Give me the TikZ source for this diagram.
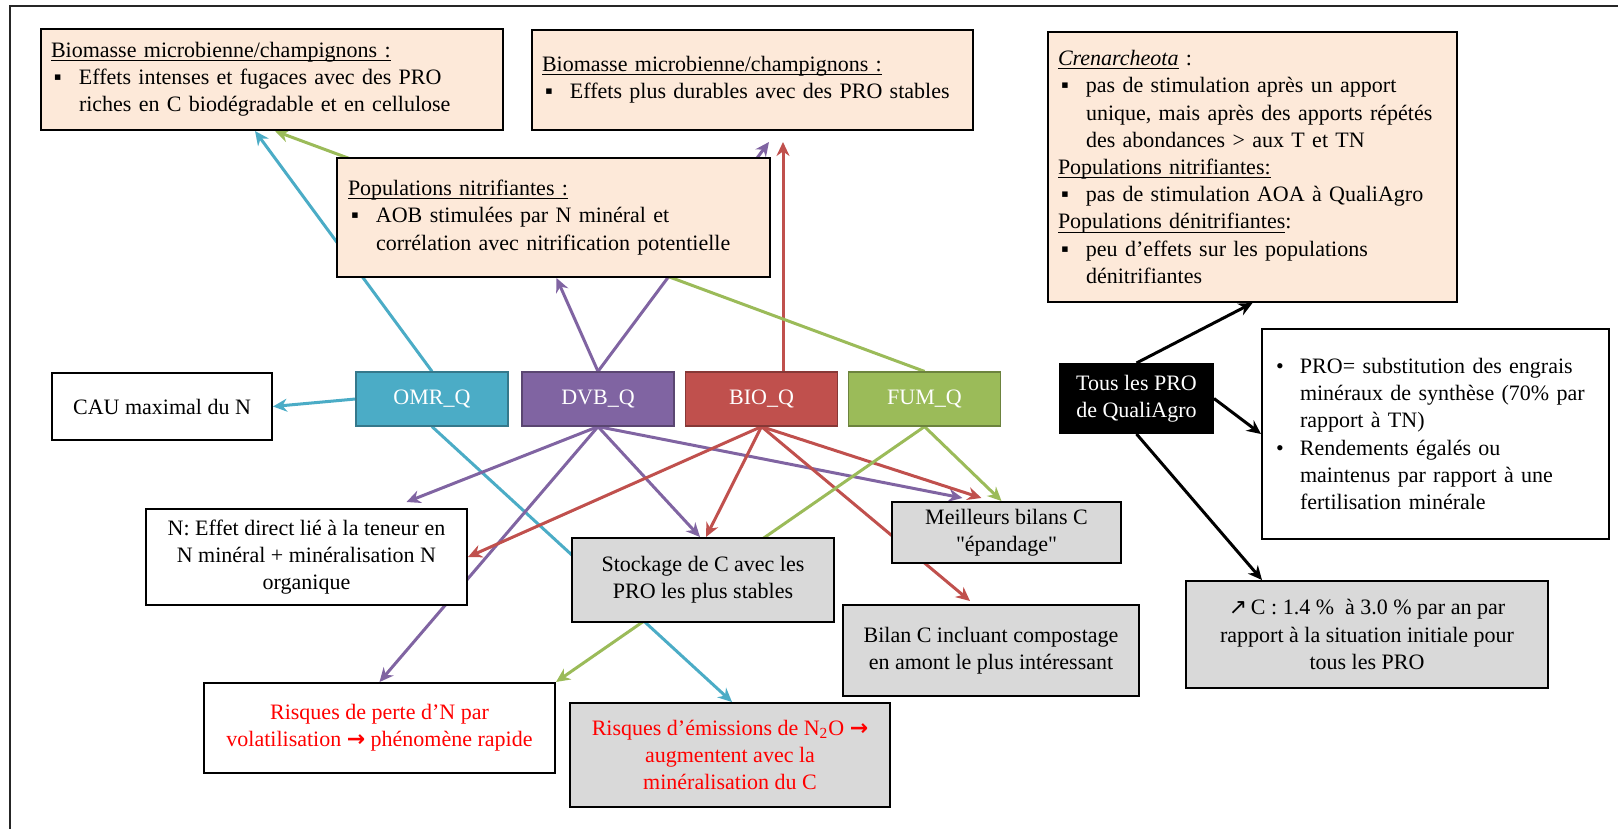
\documentclass[tikz,border=0pt]{standalone}
\usepackage{fontspec}
\setmainfont{Liberation Serif}
\newfontfamily\arrowfont{DejaVu Sans}
\usetikzlibrary{arrows.meta,calc,backgrounds}
\definecolor{omrcol}{HTML}{4BACC6}
\definecolor{dvbcol}{HTML}{8064A2}
\definecolor{biocol}{HTML}{C0504D}
\definecolor{fumcol}{HTML}{9BBB59}
\definecolor{peachfill}{HTML}{FDE9D9}
\definecolor{greyfill}{HTML}{D9D9D9}
\newcommand{\sqbul}{\makebox[14pt][l]{\hspace{1.5pt}▪}}
\newcommand{\dotbul}{\makebox[12pt][l]{•}}
\newcommand{\hang}[1]{\hspace*{#1}}
\newsavebox{\ulbox}
\newcommand{\ulin}[1]{\leavevmode\sbox{\ulbox}{#1}\rlap{\rule[-1.8pt]{\wd\ulbox}{0.5pt}}\usebox{\ulbox}}

\begin{document}
\begin{tikzpicture}[x=0.5pt,y=-0.5pt,
  every node/.style={font=\fontsize{11}{13.6}\selectfont, line width=1pt},
  peachbox/.style={draw, fill=peachfill, align=left},
  greybox/.style={draw, fill=greyfill, align=center},
  whitebox/.style={draw, fill=white, align=center},
  qbox/.style={draw=#1!70!black, line width=0.6pt, fill=#1, text=white, minimum width=76pt, minimum height=27pt},
  link/.style={draw=#1, line width=1.5pt, -{Stealth[length=7pt,width=6.5pt]}}]
\useasboundingbox (0,0) rectangle (1618,829);
\draw[line width=1.2pt, black!85] (10,829) -- (10,6) -- (1618,6);

\node[peachbox, minimum width=231pt, minimum height=50.5pt, text width=221pt, inner xsep=5pt] (bio1) at (272,79.5)
  {\ulin{Biomasse microbienne/champignons :}\\ \sqbul Effets intenses et fugaces avec des PRO\\ \hang{14pt}riches en C biodégradable et en cellulose};
\node[peachbox, minimum width=220.5pt, minimum height=50pt, text width=210.5pt, inner xsep=5pt] (bio2) at (752.5,80)
  {\ulin{Biomasse microbienne/champignons :}\\ \sqbul Effets plus durables avec des PRO stables};
\node[peachbox, minimum width=204.5pt, minimum height=135pt, text width=194.5pt, inner xsep=5pt] (crena) at (1252.5,167)
  {\ulin{\textit{Crenarcheota}} :\\ \sqbul pas de stimulation après un apport\\ \hang{14pt}unique, mais après des apports répétés\\ \hang{14pt}des abondances > aux T et TN\\
   \ulin{Populations nitrifiantes:}\\ \sqbul pas de stimulation AOA à QualiAgro\\ \ulin{Populations dénitrifiantes}:\\ \sqbul peu d’effets sur les populations\\ \hang{14pt}dénitrifiantes};
\node[peachbox, minimum width=216.5pt, minimum height=59.5pt, text width=205.5pt, inner xsep=5.5pt] (nitri) at (553.5,217.5)
  {\ulin{Populations nitrifiantes :}\\ \sqbul AOB stimulées par N minéral et\\ \hang{14pt}corrélation avec nitrification potentielle};

\node[qbox=omrcol] (omr) at (432,399) {OMR\_Q};
\node[qbox=dvbcol] (dvb) at (598,399) {DVB\_Q};
\node[qbox=biocol] (bioq) at (761.5,399) {BIO\_Q};
\node[qbox=fumcol] (fum) at (924.5,399) {FUM\_Q};

\node[whitebox, minimum width=110pt, minimum height=33.5pt] (cau) at (162,406.5) {CAU maximal du N};
\node[whitebox, minimum width=160.5pt, minimum height=48pt] (neff) at (306.5,557)
  {N: Effet direct lié à la teneur en\\ N minéral + minéralisation N\\ organique};
\node[greybox, minimum width=131pt, minimum height=42pt] (stock) at (703,580) {Stockage de C avec les\\ PRO les plus stables};
\node[greybox, minimum width=114.5pt, minimum height=30.5pt] (meil) at (1006.5,532.5) {Meilleurs bilans C\\ \textquotedbl épandage\textquotedbl};
\node[greybox, minimum width=148pt, minimum height=45.5pt] (bilan) at (991,650.5) {Bilan C incluant compostage\\ en amont le plus intéressant};
\node[whitebox, text=red, minimum width=175.5pt, minimum height=45pt] (perte) at (379.5,728)
  {Risques de perte d’N par\\ volatilisation {\arrowfont\bfseries →} phénomène rapide};
\node[greybox, text=red, minimum width=160pt, minimum height=52pt] (emis) at (730,755)
  {Risques d’émissions de N\textsubscript{2}O {\arrowfont\bfseries →}\\ augmentent avec la\\ minéralisation du C};

\node[draw=black, fill=black, text=white, align=center, minimum width=76.5pt, minimum height=34.5pt] (tous) at (1136.5,398.5) {Tous les PRO\\ de QualiAgro};
\node[draw, fill=white, align=left, minimum width=173.5pt, minimum height=105pt, text width=159.5pt, inner xsep=7pt] (pro) at (1435.5,434)
  {\dotbul PRO= substitution des engrais\\ \hang{12pt}minéraux de synthèse (70\% par\\ \hang{12pt}rapport à TN)\\ \dotbul Rendements égalés ou\\ \hang{12pt}maintenus par rapport à une\\ \hang{12pt}fertilisation minérale};
\node[greybox, minimum width=181pt, minimum height=53.5pt] (upc) at (1367,634.5)
  {{\arrowfont ↗}\,C : 1.4 \%~ à 3.0 \% par an par\\ rapport à la situation initiale pour\\ tous les PRO};

\begin{pgfonlayer}{background}
\draw[link=omrcol] (omr.north) -- ($(bio1.south)+(-17,0)$);
\draw[link=omrcol] (omr.west) -- (cau.east);
\draw[link=omrcol] (omr.south) -- ($(emis.north)+(2,0)$);
\draw[link=dvbcol] (dvb.north) -- ($(nitri.south)+(3,0)$);
\draw[link=dvbcol] (dvb.north) -- ($(bio2.south)+(16.5,11)$);
\draw[link=dvbcol] (dvb.south) -- ($(neff.north)+(100,-6)$);
\draw[link=dvbcol] (dvb.south) -- ($(stock.north)+(-3,0)$);
\draw[link=dvbcol] (dvb.south) -- ($(meil.north)+(-44,-3)$);
\draw[link=dvbcol] (dvb.south) -- (perte.north);
\draw[link=biocol] ($(bioq.north)+(21.5,0)$) -- ($(bio2.south)+(30.5,11)$);
\draw[link=biocol] (bioq.south) -- (neff.east);
\draw[link=biocol] (bioq.south) -- ($(stock.north)+(3,0)$);
\draw[link=biocol] (bioq.south) -- ($(meil.north)+(-25,-3)$);
\draw[link=biocol] (bioq.south) -- ($(bilan.north)+(-21,-3)$);
\draw[link=fumcol] (fum.north) -- ($(bio1.south)+(3,0)$);
\draw[link=fumcol] (fum.south) -- ($(meil.north)+(-5,0)$);
\draw[link=fumcol] (fum.south) -- (perte.north east);
\draw[link=black] (tous.north) -- (crena.south);
\draw[link=black] (tous.east) -- (pro.west);
\draw[link=black] (tous.south) -- ($(upc.north)+(-105,0)$);
\end{pgfonlayer}
\end{tikzpicture}
\end{document}
